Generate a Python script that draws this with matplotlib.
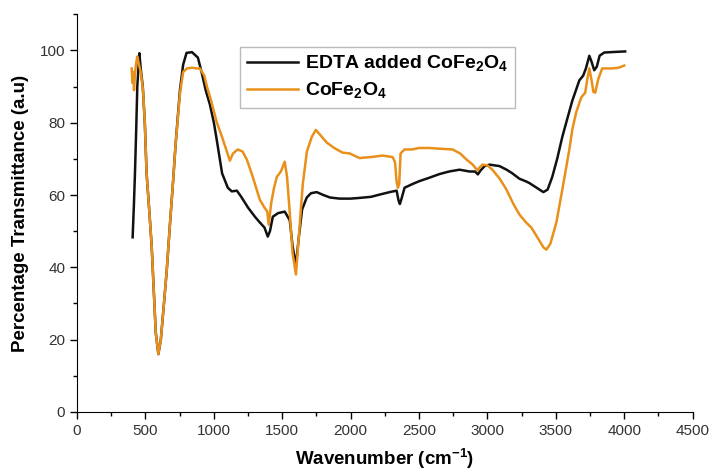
import matplotlib.pyplot as plt
from matplotlib.ticker import MultipleLocator

plt.rcParams['font.family'] = ['Liberation Sans', 'DejaVu Sans']

# EDTA added CoFe2O4 (black)
edta_wn = [406, 415, 423, 432, 440, 455, 465, 480, 495, 508, 527, 545, 560, 575, 594,
           612, 635, 655, 679, 702, 720, 752, 775, 800, 840, 883, 910, 940,
           971, 1000, 1022, 1060, 1102, 1131, 1168, 1200, 1250, 1300, 1336, 1370, 1394,
           1410, 1431, 1470, 1518, 1540, 1555, 1575, 1600, 1620, 1645, 1679, 1710, 1752,
           1800, 1850, 1920, 2000, 2066, 2150, 2200, 2285, 2336, 2350, 2360, 2372, 2394,
           2450, 2500, 2577, 2650, 2720, 2796, 2869, 2910, 2930, 2950, 2980, 3015, 3088,
           3140, 3182, 3234, 3280, 3307, 3360, 3409, 3440, 3474, 3510, 3547, 3576, 3620,
           3672, 3700, 3720, 3745, 3760, 3781, 3800, 3820, 3854, 3900, 3950, 4007]
edta_t = [48.3, 57, 66, 78, 90, 99.2, 95, 90, 80, 66, 56, 46, 34, 22, 16,
          20, 30, 39, 52, 64, 74, 89, 96, 99.3, 99.5, 98, 94, 89,
          85, 80, 75, 66, 62, 61, 61.2, 59.5, 56.5, 54, 52.4, 51, 48.5,
          50, 54, 55, 55.4, 54, 53, 46, 40.5, 48, 56, 59.3, 60.5, 60.8,
          60, 59.3, 59, 59, 59.2, 59.5, 60, 60.8, 61.2, 58.5, 57.5, 59, 62,
          63, 63.8, 64.8, 65.8, 66.5, 67, 66.5, 66.5, 65.7, 66.8, 68, 68.4, 68,
          67, 66, 64.5, 63.8, 63.3, 62, 60.8, 61.5, 65, 70, 76, 80, 86,
          91.7, 93, 95, 98.5, 97, 94.5, 95.5, 98.5, 99.4, 99.5, 99.6, 99.7]

# CoFe2O4 (orange)
cofe_wn = [399, 405, 410, 416, 422, 430, 440, 450, 465, 482, 495, 508, 527, 545, 560,
           575, 594, 612, 635, 655, 679, 702, 720, 752, 775, 803, 840, 876, 898, 930,
           949, 980, 1022, 1060, 1095, 1117, 1140, 1175, 1210, 1241, 1280, 1336, 1370,
           1390, 1401, 1420, 1440, 1460, 1490, 1518, 1535, 1555, 1575, 1600, 1620, 1650,
           1680, 1715, 1745, 1780, 1825, 1880, 1942, 1993, 2066, 2088, 2150, 2234, 2307,
           2325, 2335, 2345, 2355, 2365, 2394, 2450, 2500, 2577, 2650, 2745, 2800, 2847,
           2890, 2927, 2940, 2964, 3000, 3036, 3090, 3139, 3190, 3234, 3280, 3321, 3370,
           3410, 3431, 3460, 3504, 3550, 3599, 3620, 3650, 3686, 3715, 3730, 3745, 3760,
           3775, 3788, 3810, 3839, 3870, 3912, 3960, 4000]
cofe_t = [95, 91, 94, 89, 93, 96, 98.3, 96.5, 94, 89, 80, 66, 56, 46, 34,
          22, 16, 20, 30, 39, 52, 64, 74, 88, 94, 95, 95.2, 95, 95, 93,
          90, 86, 80, 76, 72, 69.5, 71.5, 72.6, 72, 69.8, 65.5, 58.7, 56.5,
          55.5, 51.8, 58, 62, 65, 66.5, 69.2, 65, 55, 44, 38, 48, 63,
          72, 76, 78, 76.5, 74.5, 73, 71.7, 71.5, 70.2, 70.3, 70.5, 70.9, 70.5,
          69, 64, 62, 63, 71.5, 72.6, 72.6, 73, 73, 72.8, 72.6, 71.5, 69.8,
          68.5, 66.8, 67.5, 68.4, 68.2, 67, 64.5, 61.5, 57.5, 54.6, 52.5, 51, 48,
          45.5, 44.9, 46.5, 52.4, 62, 72.6, 78, 83, 87, 88.3, 92, 95, 92,
          88.5, 88.3, 92, 95, 95, 95, 95.2, 95.8]

fig = plt.figure(figsize=(7.14, 4.73), dpi=100)
ax = fig.add_axes([0.108, 0.129, 0.862, 0.841])

ax.plot(edta_wn, edta_t, color='#111111', linewidth=1.8,
        label='EDTA added CoFe$_\\mathregular{2}$O$_\\mathregular{4}$')
ax.plot(cofe_wn, cofe_t, color='#E8901A', linewidth=1.8,
        label='CoFe$_\\mathregular{2}$O$_\\mathregular{4}$')

ax.set_xlim(0, 4500)
ax.set_ylim(0, 110)
ax.xaxis.set_major_locator(MultipleLocator(500))
ax.xaxis.set_minor_locator(MultipleLocator(250))
ax.yaxis.set_minor_locator(MultipleLocator(10))
ax.set_yticks([0, 20, 40, 60, 80, 100])

ax.tick_params(which='both', direction='out', labelsize=11, labelcolor='#333333')
ax.tick_params(which='major', length=5, width=1)
ax.tick_params(which='minor', length=3, width=1)
ax.spines['top'].set_visible(False)
ax.spines['right'].set_visible(False)

ax.set_xlabel('Wavenumber (cm$^{\\mathregular{-1}}$)', fontsize=13.5, fontweight='bold', labelpad=6)
ax.set_ylabel('Percentage Transmittance (a.u)', fontsize=13.5, fontweight='bold', labelpad=8)

leg = ax.legend(loc='upper left', bbox_to_anchor=(0.265, 0.918),
                prop={'weight': 'bold', 'size': 14}, frameon=True, fancybox=False,
                handlelength=2.6, handletextpad=0.4, borderpad=0.35, labelspacing=0.35,
                borderaxespad=0)
leg.get_frame().set_edgecolor('#aaaaaa')
leg.get_frame().set_linewidth(1)

fig.savefig('out.png', dpi=100)
